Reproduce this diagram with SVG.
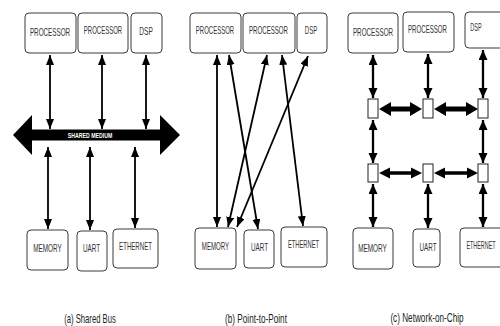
<svg xmlns="http://www.w3.org/2000/svg" width="500" height="326" viewBox="0 0 500 326">
<style>
.box{fill:#fff;stroke:#3a3a3a;stroke-width:1}
.lbl{font-family:"Liberation Sans",Arial,sans-serif;font-size:10px;fill:#333;text-anchor:middle;dominant-baseline:central}
.cap{font-family:"Liberation Sans",Arial,sans-serif;font-size:13px;fill:#222;text-anchor:middle}
.ln{stroke:#000;stroke-width:1.8;fill:none}
.ln2{stroke:#000;stroke-width:2.3;fill:none}
.rt{fill:#fff;stroke:#222;stroke-width:1}
</style>
<defs>
<marker id="ah" markerUnits="userSpaceOnUse" markerWidth="12" markerHeight="9" refX="10" refY="4" orient="auto-start-reverse">
<path d="M0,0 L10,4 L0,8 z" fill="#000"/>
</marker>
<marker id="ah2" markerUnits="userSpaceOnUse" markerWidth="12" markerHeight="10" refX="10" refY="4.5" orient="auto-start-reverse">
<path d="M0,0 L10,4.5 L0,9 z" fill="#000"/>
</marker>
</defs>

<rect width="500" height="326" fill="#fff"/>

<g id="connectors">
<!-- (a) shared bus -->
<polygon points="13,135 32,115 32,129.5 160,129.5 160,115 180,135 160,155 160,140.5 32,140.5 32,155" fill="#000"/>
<line class="ln" x1="50" y1="55" x2="50" y2="129" marker-start="url(#ah)" marker-end="url(#ah)"/>
<line class="ln" x1="102" y1="55" x2="102" y2="129" marker-start="url(#ah)" marker-end="url(#ah)"/>
<line class="ln" x1="146" y1="55" x2="146" y2="129" marker-start="url(#ah)" marker-end="url(#ah)"/>
<line class="ln" x1="48" y1="147" x2="48" y2="229" marker-start="url(#ah)" marker-end="url(#ah)"/>
<line class="ln" x1="90" y1="147" x2="90" y2="230" marker-start="url(#ah)" marker-end="url(#ah)"/>
<line class="ln" x1="135" y1="147" x2="135" y2="228" marker-start="url(#ah)" marker-end="url(#ah)"/>
<!-- (b) point to point -->
<line class="ln" x1="217" y1="55" x2="217" y2="227" marker-start="url(#ah)" marker-end="url(#ah)"/>
<line class="ln" x1="229" y1="55" x2="258" y2="229" marker-start="url(#ah)" marker-end="url(#ah)"/>
<line class="ln" x1="267" y1="55" x2="228" y2="227" marker-start="url(#ah)" marker-end="url(#ah)"/>
<line class="ln" x1="282" y1="55" x2="303" y2="226" marker-start="url(#ah)" marker-end="url(#ah)"/>
<line class="ln" x1="308" y1="56" x2="237" y2="227" marker-start="url(#ah)" marker-end="url(#ah)"/>
<!-- (c) network on chip: vertical -->
<line class="ln2" x1="373" y1="55" x2="373" y2="98" marker-start="url(#ah2)" marker-end="url(#ah2)"/>
<line class="ln2" x1="428" y1="54" x2="428" y2="98" marker-start="url(#ah2)" marker-end="url(#ah2)"/>
<line class="ln2" x1="483" y1="50" x2="483" y2="98" marker-start="url(#ah2)" marker-end="url(#ah2)"/>
<line class="ln2" x1="373" y1="120" x2="373" y2="163" marker-start="url(#ah2)" marker-end="url(#ah2)"/>
<line class="ln2" x1="483" y1="120" x2="483" y2="163" marker-start="url(#ah2)" marker-end="url(#ah2)"/>
<line class="ln2" x1="373" y1="184" x2="373" y2="227" marker-start="url(#ah2)" marker-end="url(#ah2)"/>
<line class="ln2" x1="428" y1="184" x2="428" y2="228" marker-start="url(#ah2)" marker-end="url(#ah2)"/>
<line class="ln2" x1="483" y1="184" x2="483" y2="227" marker-start="url(#ah2)" marker-end="url(#ah2)"/>
<!-- (c) horizontal thick -->
<polygon points="379,109 391,102 391,106.5 410,106.5 410,102 422,109 410,116 410,111.5 391,111.5 391,116" fill="#000"/>
<polygon points="434,109 446,102 446,106.5 466,106.5 466,102 478,109 466,116 466,111.5 446,111.5 446,116" fill="#000"/>
<polygon points="379,173 390,167.5 390,171.3 411,171.3 411,167.5 422,173 411,178.5 411,174.7 390,174.7 390,178.5" fill="#000"/>
<polygon points="434,173 445,167.5 445,171.3 467,171.3 467,167.5 478,173 467,178.5 467,174.7 445,174.7 445,178.5" fill="#000"/>
</g>

<text transform="translate(90,135) scale(0.65,1)" font-family="Liberation Sans,Arial,sans-serif" font-size="8" font-weight="bold" fill="#fff" text-anchor="middle" dominant-baseline="central">SHARED MEDIUM</text>

<!-- Panel (a) nodes -->
<g id="a-proc1"><rect class="box" x="25" y="13" width="51" height="40" rx="4"/><text class="lbl" transform="translate(50,32) scale(0.63,1)">PROCESSOR</text></g>
<g id="a-proc2"><rect class="box" x="78" y="13" width="50" height="40" rx="4"/><text class="lbl" transform="translate(103,31) scale(0.6,1)">PROCESSOR</text></g>
<g id="a-dsp"><rect class="box" x="131" y="13" width="31" height="40" rx="4"/><text class="lbl" transform="translate(146,31) scale(0.66,1)">DSP</text></g>
<g id="a-memory"><rect class="box" x="27" y="230" width="41" height="40" rx="4"/><text class="lbl" transform="translate(47.5,248) scale(0.64,1)">MEMORY</text></g>
<g id="a-uart"><rect class="box" x="77" y="231" width="30" height="40" rx="4"/><text class="lbl" transform="translate(91.5,248) scale(0.63,1)">UART</text></g>
<g id="a-ethernet"><rect class="box" x="113" y="229" width="45" height="39" rx="4"/><text class="lbl" transform="translate(135.5,247) scale(0.61,1)">ETHERNET</text></g>

<!-- Panel (b) nodes -->
<g id="b-proc1"><rect class="box" x="190" y="13" width="51" height="40" rx="4"/><text class="lbl" transform="translate(215,31) scale(0.6,1)">PROCESSOR</text></g>
<g id="b-proc2"><rect class="box" x="243" y="13" width="52" height="40" rx="4"/><text class="lbl" transform="translate(268.5,31) scale(0.61,1)">PROCESSOR</text></g>
<g id="b-dsp"><rect class="box" x="297" y="13" width="30" height="40" rx="4"/><text class="lbl" transform="translate(311,31) scale(0.6,1)">DSP</text></g>
<g id="b-memory"><rect class="box" x="195" y="228" width="41" height="41" rx="4"/><text class="lbl" transform="translate(215.5,247) scale(0.61,1)">MEMORY</text></g>
<g id="b-uart"><rect class="box" x="244" y="230" width="30" height="38" rx="4"/><text class="lbl" transform="translate(259.5,247) scale(0.63,1)">UART</text></g>
<g id="b-ethernet"><rect class="box" x="281" y="227" width="46" height="40" rx="4"/><text class="lbl" transform="translate(303.5,245) scale(0.58,1)">ETHERNET</text></g>

<!-- Panel (c) nodes -->
<g id="c-proc1"><rect class="box" x="348" y="13" width="50" height="40" rx="4"/><text class="lbl" transform="translate(373,32) scale(0.63,1)">PROCESSOR</text></g>
<g id="c-proc2"><rect class="box" x="403" y="12" width="51" height="40" rx="4"/><text class="lbl" transform="translate(427.5,30) scale(0.61,1)">PROCESSOR</text></g>
<g id="c-dsp"><rect class="box" x="465" y="12" width="45" height="36" rx="4"/><text class="lbl" transform="translate(476,28) scale(0.55,1)">DSP</text></g>
<g id="c-memory"><rect class="box" x="353" y="228" width="40" height="41" rx="4"/><text class="lbl" transform="translate(372.5,248) scale(0.64,1)">MEMORY</text></g>
<g id="c-uart"><rect class="box" x="413" y="229" width="27" height="38" rx="4"/><text class="lbl" transform="translate(428,247) scale(0.63,1)">UART</text></g>
<g id="c-ethernet"><rect class="box" x="460" y="228" width="50" height="39" rx="4"/><text class="lbl" transform="translate(481,246) scale(0.54,1)">ETHERNET</text></g>
<g id="c-r11"><rect class="rt" x="368" y="99" width="10" height="19"/></g>
<g id="c-r12"><rect class="rt" x="423" y="99" width="10" height="19"/></g>
<g id="c-r13"><rect class="rt" x="478" y="99" width="10" height="19"/></g>
<g id="c-r21"><rect class="rt" x="368" y="164" width="10" height="18"/></g>
<g id="c-r22"><rect class="rt" x="423" y="164" width="10" height="18"/></g>
<g id="c-r23"><rect class="rt" x="478" y="164" width="10" height="18"/></g>

<!-- captions -->
<text class="cap" transform="translate(90,323) scale(0.59,1)">(a) Shared Bus</text>
<text class="cap" transform="translate(256,323) scale(0.63,1)">(b) Point-to-Point</text>
<text class="cap" transform="translate(427,322) scale(0.63,1)">(c) Network-on-Chip</text>
</svg>
